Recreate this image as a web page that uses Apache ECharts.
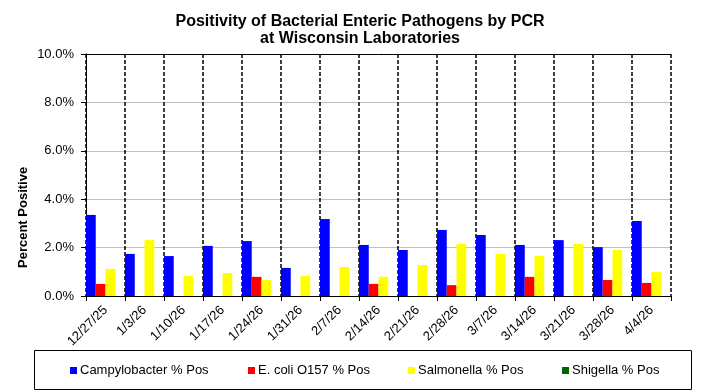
<!DOCTYPE html>
<html>
<head>
<meta charset="utf-8">
<script src="https://cdn.jsdelivr.net/npm/echarts@6/dist/echarts.min.js"></script>
<style>html,body{margin:0;padding:0;background:#fff;}#c{width:704px;height:391px;}</style>
</head>
<body>
<div id="c"></div>
<script>
var categories = ['12/27/25','1/3/26','1/10/26','1/17/26','1/24/26','1/31/26','2/7/26','2/14/26','2/21/26','2/28/26','3/7/26','3/14/26','3/21/26','3/28/26','4/4/26'];
var campylobacter = [3.35,1.74,1.65,2.07,2.27,1.16,3.18,2.11,1.90,2.73,2.52,2.11,2.31,2.02,3.10];
var ecoli = [0.50,0,0,0,0.79,0,0,0.50,0,0.45,0,0.79,0,0.66,0.54];
var salmonella = [1.12,2.31,0.83,0.95,0.66,0.83,1.20,0.79,1.28,2.15,1.74,1.65,2.15,1.90,0.99];
var shigella = [0,0,0,0,0,0,0,0,0,0,0,0,0,0,0];
var seriesNames = ['Campylobacter % Pos','E. coli O157 % Pos','Salmonella % Pos','Shigella % Pos'];
var yTicks = [0,2,4,6,8,10];

var FONT = '"Liberation Sans", Arial, sans-serif';
var colors = ['#0000FF','#FF0000','#FFFF00','#006600'];
var seriesData = [campylobacter, ecoli, salmonella, shigella];
var legendLeft = [70, 248, 408, 562];

var chart = echarts.init(document.getElementById('c'), null, {renderer:'canvas'});
var option = {
  animation: false,
  color: colors,
  textStyle: {fontFamily: FONT},
  grid: {left: 86, right: 33, top: 54, bottom: 95, containLabel: false},
  legend: seriesNames.map(function(n, i){
    return {
      data: [n], left: legendLeft[i], top: 364, padding: 0,
      itemWidth: 7, itemHeight: 7, icon: 'rect', itemGap: 0,
      textStyle: {fontSize: 13, color: '#000', fontFamily: FONT, padding: [0,0,0,-2]}
    };
  }),
  graphic: [
    {type:'text', x: 360, y: 13, style:{text:'Positivity of Bacterial Enteric Pathogens by PCR\nat Wisconsin Laboratories', textAlign:'center', textVerticalAlign:'top', font:'bold 16px ' + FONT, fill:'#000', lineHeight:17}},
    {type:'text', x: 17, y: 268, rotation: Math.PI/2, style:{text:'Percent Positive', font:'bold 13px ' + FONT, fill:'#000'}},
    {type:'rect', shape:{x:34.5, y:350.5, width:657, height:39}, style:{fill:'none', stroke:'#000', lineWidth:1}, z: -1}
  ],
  xAxis: [{
    type: 'category',
    data: categories,
    boundaryGap: true,
    axisLine: {show: true, lineStyle: {color: '#000', width: 1}},
    axisTick: {show: true, alignWithLabel: false, length: 5, lineStyle: {color: '#000'}},
    axisLabel: {interval: 0, rotate: 45, margin: 12, fontSize: 13, color: '#000', fontFamily: FONT},
    splitLine: {show: true, interval: 0, lineStyle: {color: '#000', type: [4,2], width: 1.5}}
  }],
  yAxis: [{
    type: 'value',
    min: 0, max: 10, interval: 2,
    axisLine: {show: true, lineStyle: {color: '#000', width: 1}},
    axisTick: {show: true, length: 5, lineStyle: {color: '#000'}},
    axisLabel: {margin: 12, fontSize: 13, color: '#000', fontFamily: FONT,
      formatter: function(v){ return yTicks.indexOf(v) >= 0 ? v.toFixed(1) + '%' : ''; }},
    splitLine: {show: true, lineStyle: {color: ['#c0c0c0','#c0c0c0','#c0c0c0','#c0c0c0','#c0c0c0','#000'], width: 1}}
  }],
  series: seriesData.map(function(d, i){
    return {
      name: seriesNames[i], type: 'bar', data: d,
      barGap: '0%', barCategoryGap: '0%',
      itemStyle: {color: colors[i]}
    };
  })
};
chart.setOption(option);
</script>
</body>
</html>
